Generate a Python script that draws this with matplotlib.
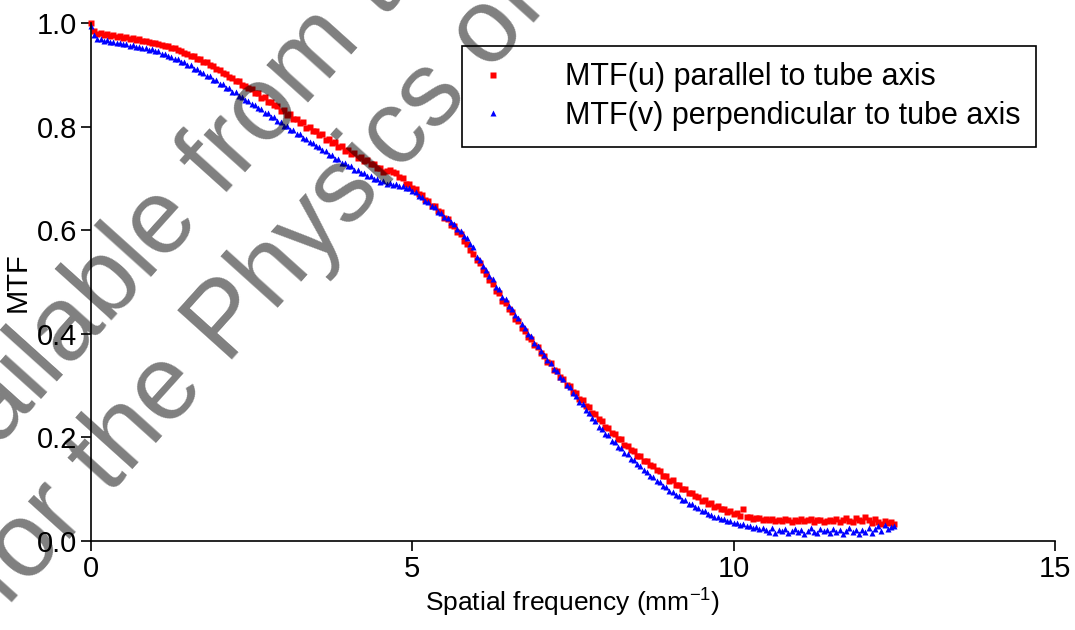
import numpy as np
import matplotlib
matplotlib.use('Agg')
import matplotlib.pyplot as plt

plt.rcParams['font.family'] = ['Liberation Sans', 'DejaVu Sans']
plt.rcParams['mathtext.fontset'] = 'custom'
plt.rcParams['mathtext.rm'] = 'Liberation Sans'

mtf_u = [
    1.000, 0.984, 0.979, 0.980, 0.976, 0.978, 0.974, 0.976, 0.973, 0.974,
    0.971, 0.973, 0.969, 0.971, 0.967, 0.969, 0.965, 0.966, 0.963, 0.962,
    0.961, 0.959, 0.958, 0.955, 0.955, 0.951, 0.952, 0.947, 0.946, 0.942,
    0.941, 0.937, 0.936, 0.931, 0.931, 0.925, 0.925, 0.919, 0.917, 0.911,
    0.909, 0.903, 0.901, 0.896, 0.894, 0.888, 0.888, 0.880, 0.879, 0.874,
    0.872, 0.864, 0.864, 0.856, 0.857, 0.848, 0.847, 0.841, 0.840, 0.831,
    0.832, 0.822, 0.825, 0.814, 0.815, 0.807, 0.808, 0.798, 0.800, 0.791,
    0.792, 0.783, 0.785, 0.775, 0.777, 0.768, 0.770, 0.761, 0.762, 0.753,
    0.755, 0.748, 0.749, 0.740, 0.742, 0.734, 0.735, 0.727, 0.728, 0.720,
    0.720, 0.713, 0.715, 0.717, 0.712, 0.711, 0.702, 0.700, 0.690, 0.690,
    0.681, 0.679, 0.669, 0.668, 0.658, 0.656, 0.647, 0.646, 0.637, 0.635,
    0.623, 0.621, 0.610, 0.608, 0.596, 0.592, 0.579, 0.574, 0.561, 0.555,
    0.542, 0.536, 0.523, 0.516, 0.503, 0.496, 0.483, 0.479, 0.464, 0.460,
    0.447, 0.442, 0.429, 0.424, 0.412, 0.406, 0.394, 0.390, 0.378, 0.374,
    0.362, 0.358, 0.346, 0.343, 0.331, 0.328, 0.316, 0.312, 0.302, 0.299,
    0.288, 0.285, 0.274, 0.272, 0.261, 0.258, 0.248, 0.246, 0.235, 0.232,
    0.220, 0.219, 0.209, 0.207, 0.197, 0.196, 0.186, 0.184, 0.175, 0.174,
    0.165, 0.164, 0.155, 0.154, 0.146, 0.145, 0.137, 0.136, 0.126, 0.126,
    0.116, 0.117, 0.109, 0.109, 0.101, 0.101, 0.093, 0.093, 0.086, 0.085,
    0.078, 0.079, 0.072, 0.073, 0.066, 0.067, 0.061, 0.062, 0.056, 0.058,
    0.052, 0.054, 0.049, 0.062, 0.046, 0.047, 0.043, 0.045, 0.044, 0.041,
    0.042, 0.040, 0.043, 0.039, 0.041, 0.038, 0.042, 0.040, 0.037, 0.041,
    0.039, 0.042, 0.038, 0.040, 0.043, 0.037, 0.040, 0.041, 0.036, 0.039,
    0.041, 0.038, 0.042, 0.036, 0.040, 0.044, 0.039, 0.037, 0.045, 0.041,
    0.038, 0.046, 0.040, 0.035, 0.042, 0.037, 0.033, 0.039, 0.034, 0.036,
    0.032,
]

mtf_v = [
    0.995, 0.976, 0.969, 0.969, 0.966, 0.967, 0.963, 0.964, 0.961, 0.962,
    0.959, 0.960, 0.956, 0.957, 0.954, 0.954, 0.951, 0.952, 0.948, 0.949,
    0.945, 0.945, 0.941, 0.941, 0.936, 0.935, 0.931, 0.930, 0.925, 0.924,
    0.919, 0.918, 0.912, 0.911, 0.905, 0.904, 0.898, 0.897, 0.890, 0.890,
    0.883, 0.882, 0.875, 0.874, 0.867, 0.866, 0.859, 0.858, 0.851, 0.850,
    0.843, 0.842, 0.835, 0.834, 0.827, 0.826, 0.819, 0.818, 0.811, 0.809,
    0.802, 0.801, 0.794, 0.793, 0.786, 0.785, 0.778, 0.777, 0.770, 0.769,
    0.762, 0.761, 0.754, 0.753, 0.746, 0.745, 0.738, 0.737, 0.730, 0.730,
    0.723, 0.723, 0.717, 0.716, 0.710, 0.710, 0.704, 0.704, 0.698, 0.699,
    0.694, 0.695, 0.690, 0.691, 0.687, 0.689, 0.685, 0.686, 0.681, 0.681,
    0.675, 0.674, 0.666, 0.664, 0.656, 0.654, 0.646, 0.644, 0.636, 0.634,
    0.626, 0.624, 0.615, 0.612, 0.603, 0.599, 0.589, 0.584, 0.573, 0.567,
    0.549, 0.542, 0.531, 0.524, 0.511, 0.505, 0.491, 0.486, 0.472, 0.467,
    0.454, 0.448, 0.436, 0.430, 0.418, 0.412, 0.400, 0.395, 0.383, 0.377,
    0.366, 0.360, 0.349, 0.344, 0.333, 0.328, 0.317, 0.313, 0.302, 0.298,
    0.285, 0.280, 0.269, 0.264, 0.253, 0.248, 0.237, 0.232, 0.221, 0.217,
    0.207, 0.204, 0.194, 0.191, 0.182, 0.179, 0.170, 0.168, 0.159, 0.157,
    0.148, 0.145, 0.137, 0.134, 0.126, 0.124, 0.116, 0.114, 0.106, 0.104,
    0.096, 0.095, 0.088, 0.087, 0.080, 0.079, 0.072, 0.071, 0.065, 0.064,
    0.058, 0.057, 0.052, 0.051, 0.047, 0.047, 0.043, 0.042, 0.038, 0.038,
    0.034, 0.035, 0.031, 0.032, 0.028, 0.029, 0.026, 0.027, 0.024, 0.025,
    0.022, 0.018, 0.025, 0.016, 0.021, 0.019, 0.024, 0.015, 0.020, 0.023,
    0.017, 0.022, 0.014, 0.020, 0.025, 0.018, 0.016, 0.023, 0.019, 0.021,
    0.015, 0.024, 0.018, 0.022, 0.013, 0.020, 0.026, 0.017, 0.021, 0.014,
    0.022, 0.018, 0.025, 0.016, 0.023, 0.028, 0.019, 0.030, 0.024, 0.027,
    0.029,
]

freq = np.linspace(0, 12.5, len(mtf_u))

label_u = 'MTF(u) parallel to tube axis'
label_v = 'MTF(v) perpendicular to tube axis'
x_ticks = [0, 5, 10, 15]
y_ticks = [0.0, 0.2, 0.4, 0.6, 0.8, 1.0]


def main():
    fig = plt.figure(figsize=(10.75, 6.3), dpi=100)
    ax = fig.add_axes([91 / 1075, 1 - 541 / 630, 964 / 1075, 518 / 630])

    ax.plot(freq, mtf_u, linestyle='none', marker='s', ms=4.4, color='#ff0000',
            mec='none', label=label_u, clip_on=False)
    ax.plot(freq, mtf_v, linestyle='none', marker='^', ms=4.4, color='#0000ff',
            mec='none', label=label_v, clip_on=False)

    ax.set_xlim(0, 15)
    ax.set_ylim(0, 1.0)
    ax.set_xticks(x_ticks)
    ax.set_yticks(y_ticks)
    ax.set_yticklabels([f'{v:.1f}' for v in y_ticks])

    for side in ['top', 'right']:
        ax.spines[side].set_visible(False)
    for side in ['left', 'bottom']:
        ax.spines[side].set_linewidth(1.2)
    ax.tick_params(direction='out', length=7, width=1.2, labelsize=21, pad=3)

    ax.set_xlabel('Spatial frequency (mm$^{\\mathrm{-1}}$)', fontsize=19)
    ax.set_ylabel('MTF', fontsize=21)
    ax.xaxis.set_label_coords(0.5, -0.085)
    ax.yaxis.set_label_coords(-0.062, 0.5)
    ax.xaxis.label.set_va('top')

    leg = ax.legend(loc='upper left', bbox_to_anchor=(462 / 1075, 1 - 46 / 630),
                    bbox_transform=fig.transFigure, borderaxespad=0,
                    fontsize=22, numpoints=1, markerscale=0.9, handlelength=1.0,
                    handletextpad=1.83, borderpad=0.53, labelspacing=0.28,
                    fancybox=False, framealpha=1, edgecolor='black')
    leg.get_frame().set_linewidth(1.2)

    # watermark laid over the chart
    wm = dict(fontsize=76, color='black', alpha=0.5, rotation=48,
              rotation_mode='anchor', va='baseline',
              transform=None, zorder=10)
    fig.text(-77, 100, 'available from the', ha='left', **wm)
    fig.text(548, 630 - 8, 'for the Physics of', ha='right', **wm)

    fig.savefig('out.png', dpi=100)


if __name__ == "__main__":
    main()
